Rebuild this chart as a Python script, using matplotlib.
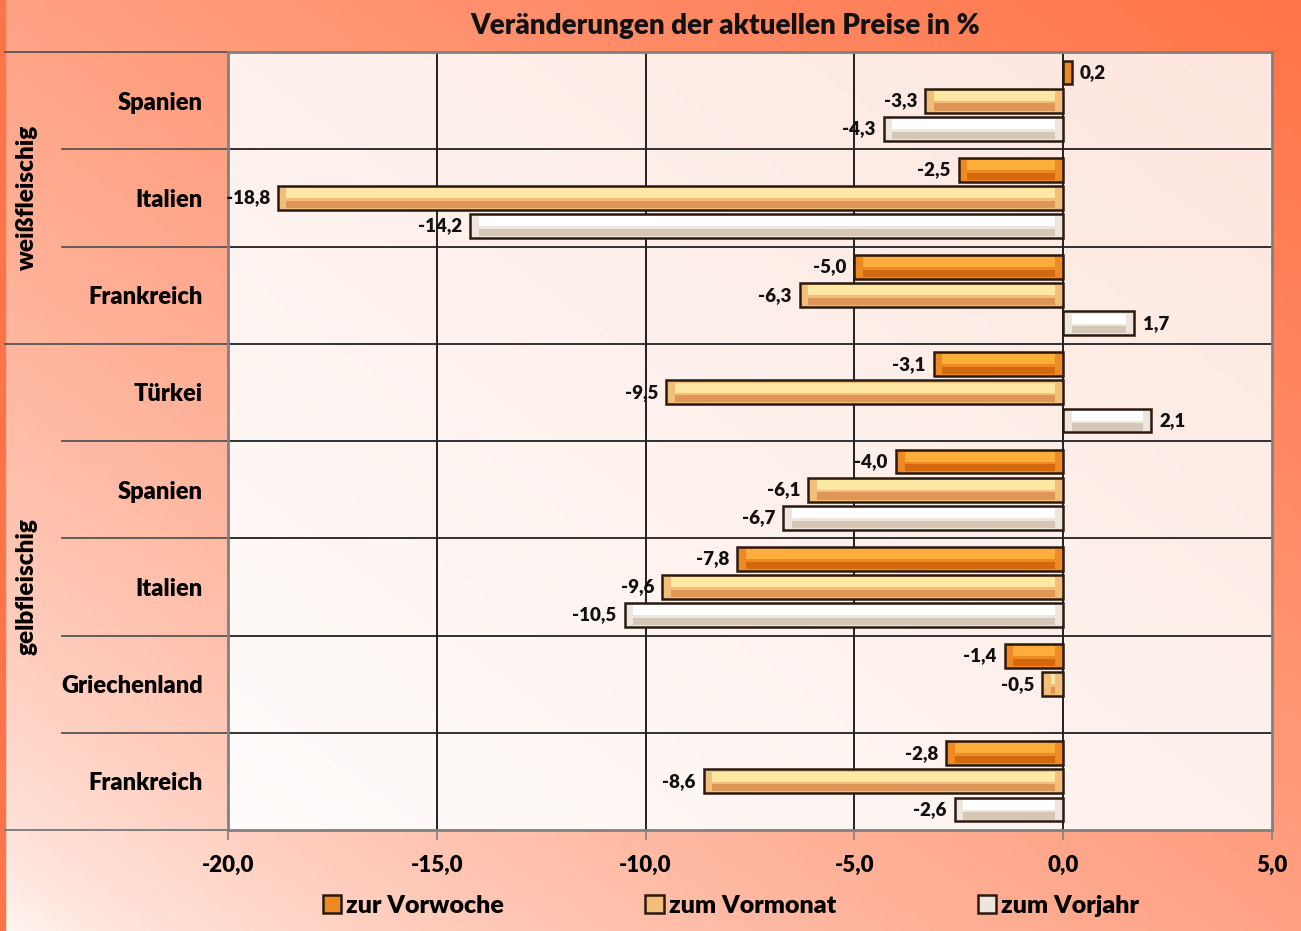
import numpy as np
import matplotlib
matplotlib.use("Agg")
import matplotlib.pyplot as plt
from matplotlib.patches import Rectangle, Patch
from matplotlib.transforms import blended_transform_factory
from matplotlib.colors import to_rgb

plt.rcParams['font.family'] = ['Lato', 'DejaVu Sans']
plt.rcParams['font.weight'] = 'heavy'

# ---------------- data ----------------
title = "Veränderungen der aktuellen Preise in %"
countries = ["Spanien", "Italien", "Frankreich", "Türkei", "Spanien",
             "Italien", "Griechenland", "Frankreich"]
groups = ["weißfleischig", "gelbfleischig"]
group_sizes = [3, 5]
series_names = ["zur Vorwoche", "zum Vormonat", "zum Vorjahr"]
vorwoche = [0.2, -2.5, -5.0, -3.1, -4.0, -7.8, -1.4, -2.8]
vormonat = [-3.3, -18.8, -6.3, -9.5, -6.1, -9.6, -0.5, -8.6]
vorjahr = [-4.3, -14.2, 1.7, 2.1, -6.7, -10.5, np.nan, -2.6]
xticks = [-20, -15, -10, -5, 0, 5]

series = [vorwoche, vormonat, vorjahr]
face_cols = ["#EE8A24", "#F2BE7A", "#EDE6DE"]
hi_cols = ["#FFAE3C", "#FFE8A4", "#FFFFFF"]
lo_cols = ["#D4680E", "#DE9658", "#D6C6B6"]
edge_col = "#2A1A10"
FW = 'heavy'

W, H = 1301, 931
fig = plt.figure(figsize=(W / 100, H / 100), dpi=100)

# background gradient
bg = fig.add_axes([0, 0, 1, 1], zorder=-10)
xx, yy = np.meshgrid(np.linspace(0, 1, 400), np.linspace(1, 0, 300))
t = ((xx + yy) / 2) ** 0.6
c0 = np.array(to_rgb("#FFFAF8"))
c1 = np.array(to_rgb("#FF7448"))
img = c0[None, None, :] * (1 - t[..., None]) + c1[None, None, :] * t[..., None]
bg.imshow(img, extent=[0, 1, 0, 1], aspect='auto')
bg.add_patch(Rectangle((0, 0), 5 / W, 1, color="#FF7448"))
bg.set_xlim(0, 1)
bg.set_ylim(0, 1)
bg.axis('off')

L, R, T, B = 228, 1272, 52, 830
ax = fig.add_axes([L / W, (H - B) / H, (R - L) / W, (B - T) / H])

n = len(countries)
# plot area gradient
xx2, yy2 = np.meshgrid(np.linspace(0, 1, 200), np.linspace(1, 0, 200))
t2 = (xx2 + yy2) / 2
p0 = np.array(to_rgb("#FFFCFB"))
p1 = np.array(to_rgb("#FDE6DE"))
img2 = p0[None, None, :] * (1 - t2[..., None]) + p1[None, None, :] * t2[..., None]
ax.imshow(img2, extent=[xticks[0], xticks[-1], n - 0.5, -0.5], aspect='auto', zorder=0)

y = np.arange(n)
offsets = [-0.29, 0.0, 0.29]
bh = 0.245
inset = 0.2
for vals, off, fc, hc, lc, name in zip(series, offsets, face_cols, hi_cols, lo_cols, series_names):
    v = np.array(vals, dtype=float)
    hv = np.where(np.abs(v) > 2 * inset, v - np.sign(v) * 2 * inset, np.nan)
    bars = ax.barh(y + off, v, height=bh, color=fc, edgecolor=edge_col,
                   linewidth=1.8, zorder=3, label=name)
    ax.barh(y + off - bh * 0.2, hv, left=np.sign(v) * inset, height=bh * 0.42,
            color=hc, linewidth=0, zorder=4)
    ax.barh(y + off + bh * 0.27, hv, left=np.sign(v) * inset, height=bh * 0.3,
            color=lc, linewidth=0, zorder=4)
    labels = ["" if np.isnan(a) else f"{a:.1f}".replace(".", ",") for a in v]
    ax.bar_label(bars, labels=labels, padding=6, fontsize=13.5,
                 fontweight=FW, color="#111111", zorder=6)

ax.set_xlim(xticks[0], xticks[-1])
ax.set_ylim(n - 0.5, -0.5)
ax.set_xticks(xticks)
ax.set_xticklabels([f"{v:.1f}".replace(".", ",") for v in xticks],
                   fontsize=16, fontweight=FW)
ax.set_yticks(y)
ax.set_yticklabels(countries, fontsize=17, fontweight=FW)
ax.tick_params(axis='y', length=0, pad=18)
ax.tick_params(axis='x', length=7, width=1.2, color="#808080", pad=11, direction='out')

for xv in xticks[1:-1]:
    ax.axvline(xv, color="#111111", lw=1.3, zorder=2)
for i in range(n - 1):
    ax.axhline(i + 0.5, color="#222222", lw=1.3, zorder=2)
for s in ax.spines.values():
    s.set_color("#808080")
    s.set_linewidth(2)

# label-area separators
tr = blended_transform_factory(ax.transAxes, ax.transData)
xin = (62 - L) / (R - L)
xout = (5 - L) / (R - L)
bounds = np.cumsum([0] + group_sizes)
for i in range(1, n):
    x0 = xout if i in bounds else xin
    ax.plot([x0, 0], [i - 0.5, i - 0.5], color="#555555", lw=1.3,
            transform=tr, clip_on=False)
ax.plot([xout, 0], [-0.5, -0.5], color="#555555", lw=1.3, transform=tr, clip_on=False)
ax.plot([xout, 0], [n - 0.5, n - 0.5], color="#777777", lw=1.3, transform=tr, clip_on=False)

xg = (27 - L) / (R - L)
for g, s0, sz in zip(groups, bounds[:-1], group_sizes):
    ax.text(xg, s0 + (sz - 1) / 2, g, rotation=90, ha='center', va='center',
            fontsize=17.5, fontweight=FW, transform=tr)

fig.text(725 / W, (H - 26) / H, title, ha='center', va='center',
         fontsize=20, fontweight=FW, color="#111111")

handles = [Patch(facecolor=fc, edgecolor=edge_col, linewidth=1.8) for fc in face_cols]
fig.legend(handles, series_names, loc='center', bbox_to_anchor=(731 / W, (H - 906) / H),
           ncol=3, frameon=False, handlelength=0.75, handleheight=0.75,
           handletextpad=0.2, columnspacing=5.65,
           prop={'weight': FW, 'size': 18})

fig.savefig("out.png", dpi=100)
